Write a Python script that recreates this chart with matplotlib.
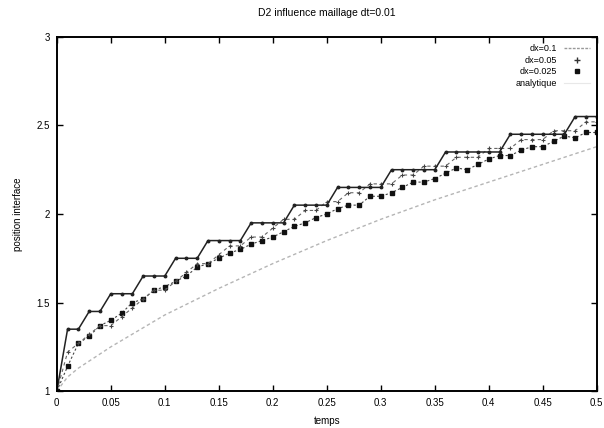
import matplotlib
matplotlib.use("Agg")
import matplotlib.pyplot as plt
from matplotlib.lines import Line2D

plt.rcParams['font.family'] = ['Liberation Sans', 'DejaVu Sans']

# temps (dt=0.01)
t = [i / 100 for i in range(51)]

# dx=0.1
dx_01 = [1.0, 1.35, 1.35, 1.45, 1.45, 1.55, 1.55, 1.55, 1.65, 1.65,
         1.65, 1.75, 1.75, 1.75, 1.85, 1.85, 1.85, 1.85, 1.95, 1.95,
         1.95, 1.95, 2.05, 2.05, 2.05, 2.05, 2.15, 2.15, 2.15, 2.15,
         2.15, 2.25, 2.25, 2.25, 2.25, 2.25, 2.35, 2.35, 2.35, 2.35,
         2.35, 2.35, 2.45, 2.45, 2.45, 2.45, 2.45, 2.45, 2.55, 2.55,
         2.55]

# dx=0.05
dx_005 = [1.0, 1.22, 1.27, 1.32, 1.37, 1.37, 1.42, 1.47, 1.52, 1.57,
          1.57, 1.62, 1.67, 1.72, 1.72, 1.77, 1.82, 1.82, 1.87, 1.87,
          1.92, 1.97, 1.97, 2.02, 2.02, 2.07, 2.07, 2.12, 2.12, 2.17,
          2.17, 2.17, 2.22, 2.22, 2.27, 2.27, 2.27, 2.32, 2.32, 2.32,
          2.37, 2.37, 2.37, 2.42, 2.42, 2.42, 2.47, 2.47, 2.47, 2.52,
          2.52]

# dx=0.025
dx_0025 = [1.0, 1.14, 1.27, 1.31, 1.37, 1.40, 1.44, 1.50, 1.52, 1.57,
           1.59, 1.62, 1.65, 1.70, 1.72, 1.75, 1.78, 1.80, 1.83, 1.85,
           1.87, 1.90, 1.93, 1.95, 1.98, 2.00, 2.03, 2.05, 2.05, 2.10,
           2.10, 2.12, 2.15, 2.18, 2.18, 2.20, 2.23, 2.26, 2.25, 2.28,
           2.31, 2.33, 2.33, 2.36, 2.38, 2.38, 2.41, 2.44, 2.43, 2.46,
           2.46]

# analytique
t_ana = [0, 0.01, 0.02, 0.05, 0.1, 0.15, 0.2, 0.25, 0.3, 0.35, 0.4, 0.45, 0.5]
ana = [1.0, 1.08, 1.13, 1.25, 1.43, 1.58, 1.72, 1.85, 1.97, 2.08, 2.18, 2.28, 2.38]

xticks = [0, 0.05, 0.1, 0.15, 0.2, 0.25, 0.3, 0.35, 0.4, 0.45, 0.5]
xticklabels = ['0', '0.05', '0.1', '0.15', '0.2', '0.25', '0.3', '0.35', '0.4', '0.45', '0.5']
yticks = [1, 1.5, 2, 2.5, 3]
yticklabels = ['1', '1.5', '2', '2.5', '3']

fig = plt.figure(figsize=(6.04, 4.28), dpi=100)
ax = fig.add_axes([0.094, 0.086, 0.894, 0.828])

ax.plot(t_ana, ana, color='#b5b5b5', lw=1.0, ls=(0, (2.5, 2)))
ax.plot(t, dx_0025, color='#444444', lw=0.8, ls=(0, (2, 2)),
        marker='s', ms=3.0, mfc='#111111', mec='#111111')
ax.plot(t, dx_005, color='#666666', lw=0.8, ls=(0, (3, 3)),
        marker='+', ms=3.5, mew=0.8, mec='#444444')
ax.plot(t, dx_01, color='#222222', lw=1.1, ls='-',
        marker='o', ms=1.8, mfc='#222222', mec='#222222')

ax.set_xlim(0, 0.5)
ax.set_ylim(1, 3)
ax.set_xticks(xticks)
ax.set_xticklabels(xticklabels)
ax.set_yticks(yticks)
ax.set_yticklabels(yticklabels)
ax.tick_params(direction='in', length=4, width=1, labelsize=7,
               top=True, right=True, pad=5)
for s in ax.spines.values():
    s.set_linewidth(1.4)

ax.set_title('D2 influence maillage dt=0.01', fontsize=7.5, pad=15)
ax.set_xlabel('temps', fontsize=7, labelpad=6)
ax.set_ylabel('position interface', fontsize=7, labelpad=10)

handles = [
    Line2D([], [], color='#999999', lw=1, ls=(0, (2, 1))),
    Line2D([], [], ls='none', marker='+', ms=4, mec='#333333'),
    Line2D([], [], ls='none', marker='s', ms=3.2, mfc='#111111', mec='#111111'),
    Line2D([], [], color='#e8e8e8', lw=0.8),
]
labels = ['dx=0.1', 'dx=0.05', 'dx=0.025', 'analytique']
ax.legend(handles, labels, loc='upper right', frameon=False, fontsize=6.5,
          markerfirst=False, handlelength=2.8, labelspacing=0.3,
          borderaxespad=0.4, handletextpad=0.8)

fig.savefig('out.png', dpi=100)
